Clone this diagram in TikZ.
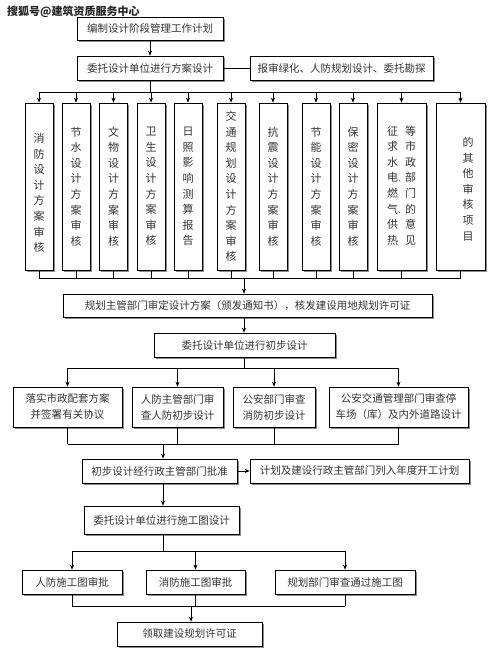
\documentclass[tikz,border=0pt]{standalone}
\usepackage{fontspec}
\newfontfamily\cjk{Noto Sans CJK SC}
\usetikzlibrary{arrows.meta,shadows}
\newcommand{\smdun}{\rlap{\fontsize{7}{7}\selectfont 、}}
\tikzset{
  box/.style={draw=black, line width=0.7pt, fill=white, inner sep=0pt, align=center,
    drop shadow={shadow xshift=1.8pt, shadow yshift=-1.8pt, fill=black!45, opacity=1},
    font=\cjk\fontsize{10.5}{16}\selectfont, text=black!80},
  vbox/.style={box, font=\cjk\fontsize{11}{15.6}\selectfont},
  arr/.style={-{Stealth[length=5pt,width=4pt]}, line width=0.7pt},
  ln/.style={line width=0.7pt}
}
\begin{document}
\begin{tikzpicture}[x=1pt,y=-1pt]
\useasboundingbox[fill=white] (0,0) rectangle (499,661);
% watermark
\node[anchor=west, inner sep=0pt, font=\cjk\bfseries\fontsize{11}{12}\selectfont, text=black!85] (wm) at (7,12) {搜狐号@建筑资质服务中心};
% top boxes
\node[box, minimum width=146pt, minimum height=23pt] (b1) at (150,28.5) {编制设计阶段管理工作计划};
\node[box, minimum width=146pt, minimum height=24pt] (b2) at (150,68) {委托设计单位进行方案设计};
\node[box, minimum width=183pt, minimum height=24pt] (b3) at (341.5,68) {报审绿化、人防规划设计、委托勘探};
% tall boxes
\node[vbox, minimum width=28pt, minimum height=167pt] (t1) at (39,186.5) {};
\node[font=\cjk\fontsize{11}{15.6}\selectfont, text=black!80, align=center, inner sep=0pt] (t1txt) at (39,193) {消\\防\\设\\计\\方\\案\\审\\核};
\node[vbox, minimum width=28pt, minimum height=167pt] (t2) at (76,186.5) {节\\水\\设\\计\\方\\案\\审\\核};
\node[vbox, minimum width=28pt, minimum height=167pt] (t3) at (113.5,186.5) {文\\物\\设\\计\\方\\案\\审\\核};
\node[vbox, minimum width=28pt, minimum height=167pt] (t4) at (151,186.5) {卫\\生\\设\\计\\方\\案\\审\\核};
\node[vbox, minimum width=28pt, minimum height=167pt] (t5) at (188,186.5) {日\\照\\影\\响\\测\\算\\报\\告};
\node[vbox, minimum width=28pt, minimum height=167pt] (t6) at (231,186.5) {交\\通\\规\\划\\设\\计\\方\\案\\审\\核};
\node[vbox, minimum width=28pt, minimum height=167pt] (t7) at (273,186.5) {抗\\震\\设\\计\\方\\案\\审\\核};
\node[vbox, minimum width=28pt, minimum height=167pt] (t8) at (316,186.5) {节\\能\\设\\计\\方\\案\\审\\核};
\node[vbox, minimum width=28pt, minimum height=167pt] (t9) at (353,186.5) {保\\密\\设\\计\\方\\案\\审\\核};
\node[vbox, minimum width=49pt, minimum height=167pt] (t10) at (401.5,186.5) {\begin{tabular}{@{}c@{\hspace{7pt}}c@{}}
\begin{tabular}{@{}c@{}}征\\求\\水\\电\smdun\\燃\\气\smdun\\供\\热\end{tabular} &
\begin{tabular}{@{}c@{}}等\\市\\政\\部\\门\\的\\意\\见\end{tabular}\end{tabular}};
\node[vbox, minimum width=49pt, minimum height=167pt] (t11) at (460.5,186.5) {};
\node[font=\cjk\fontsize{11}{15.6}\selectfont, text=black!80, align=center, inner sep=0pt] (t11txt) at (468,189) {的\\其\\他\\审\\核\\项\\目};
% middle
\node[box, minimum width=369pt, minimum height=23pt] (R) at (247.5,305.5) {规划主管部门审定设计方案（颁发通知书），核发建设用地规划许可证};
\node[box, minimum width=181pt, minimum height=24pt] (P) at (244.5,345) {委托设计单位进行初步设计};
\node[box, minimum width=109pt, minimum height=40pt] (A) at (67.5,407) {落实市政配套方案\\并签署有关协议};
\node[box, minimum width=91pt, minimum height=40pt] (B) at (177.5,407) {人防主管部门审\\查人防初步设计};
\node[box, minimum width=82pt, minimum height=40pt] (C) at (274,407) {公安部门审查\\消防初步设计};
\node[box, minimum width=139pt, minimum height=40pt] (D) at (398.5,407) {公安交通管理部门审查停\\车场（库）及内外道路设计};
\node[box, minimum width=155pt, minimum height=24pt] (E) at (159.5,471) {初步设计经行政主管部门批准};
\node[box, minimum width=219pt, minimum height=24pt] (F) at (359.5,471) {计划及建设行政主管部门列入年度开工计划};
\node[box, minimum width=155pt, minimum height=28pt] (G) at (161.5,520) {委托设计单位进行施工图设计};
\node[box, minimum width=100pt, minimum height=24pt] (H) at (72,582) {人防施工图审批};
\node[box, minimum width=99pt, minimum height=24pt] (I) at (195.5,582) {消防施工图审批};
\node[box, minimum width=140pt, minimum height=24pt] (J) at (345,582) {规划部门审查通过施工图};
\node[box, minimum width=145pt, minimum height=24pt] (K) at (189.5,634) {领取建设规划许可证};
% connectors
\draw[arr] (b1) -- (b2);
\draw[ln] (b2) -- (b3);
\coordinate (bt) at (150,92);
\draw[ln] (b2.south) -- (bt);
\draw[ln] (t1.north |- bt) -- (t11.north |- bt);
\foreach \i in {1,...,11} \draw[arr] (t\i.north |- bt) -- (t\i.north);
\coordinate (bb) at (244,278);
\foreach \i in {1,...,11} \draw[ln] (t\i.south) -- (t\i.south |- bb);
\draw[ln] (t1.south |- bb) -- (t11.south |- bb);
\draw[arr] (bb) -- (bb |- R.north);
\draw[arr] (bb |- R.south) -- (bb |- P.north);
\coordinate (bm) at (244,368);
\draw[ln] (bb |- P.south) -- (bm);
\draw[ln] (A.north |- bm) -- (D.north |- bm);
\foreach \n in {A,B,C,D} \draw[arr] (\n.north |- bm) -- (\n.north);
\coordinate (bl) at (163,444);
\foreach \n in {A,B,C,D} \draw[ln] (\n.south) -- (\n.south |- bl);
\draw[ln] (A.south |- bl) -- (D.south |- bl);
\draw[arr] (bl) -- (bl |- E.north);
\draw[arr] (E.east) -- (F.west);
\draw[arr] (bl |- E.south) -- (bl |- G.north);
\coordinate (bg) at (163,551);
\draw[ln] (bl |- G.south) -- (bg);
\draw[ln] (H.north |- bg) -- (J.north |- bg);
\foreach \n in {H,I,J} \draw[arr] (\n.north |- bg) -- (\n.north);
\coordinate (bk) at (191,606);
\foreach \n in {H,I,J} \draw[ln] (\n.south) -- (\n.south |- bk);
\draw[ln] (H.south |- bk) -- (J.south |- bk);
\draw[arr] (bk) -- (bk |- K.north);
\end{tikzpicture}
\end{document}
